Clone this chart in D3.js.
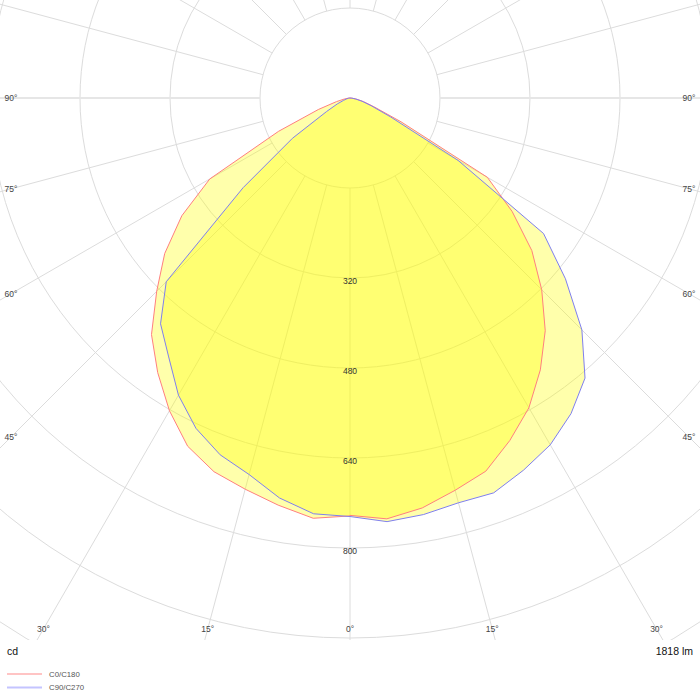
<!DOCTYPE html>
<html>
<head>
<meta charset="utf-8">
<script src="https://cdn.jsdelivr.net/npm/d3@7"></script>
<style>
  body { margin: 0; background: #fff; }
  text { font-family: "Liberation Sans", Arial, sans-serif; }
</style>
</head>
<body>
<div id="chart"></div>
<script>
// gamma angles (deg from nadir) and intensities in cd for each C-plane
const angles = [0, 5, 10, 15, 20, 25, 30, 35, 40, 45, 50, 55, 60, 65, 70, 75, 80, 85, 90];
const c0 = [742, 751, 740, 722, 706, 672, 636, 590, 540, 482, 422, 352, 282, 100, 45, 25, 12, 4, 0];
const c180 = [743, 750, 735, 720, 707, 683, 642, 596, 549, 486, 430, 365, 288, 140, 60, 25, 10, 3, 0];
const c90 = [744, 756, 752, 745, 747, 730, 712, 685, 650, 583, 500, 420, 222, 80, 40, 22, 10, 3, 0];
const c270 = [744, 742, 722, 693, 675, 648, 610, 562, 524, 462, 248, 125, 48, 25, 12, 6, 3, 1, 0];

const gridCircles = [160, 320, 480, 640, 800, 960, 1120, 1280, 1440];
const tickLabels = [320, 480, 640, 800];
const angleTicks = [0, 15, 30, 45, 60, 75, 90];
const legendNames = ["C0/C180", "C90/C270"];
const fluxLabel = "1818 lm";

const width = 700,
  height = 700,
  cx = 350,
  cy = 98;

const r = d3.scaleLinear().domain([0, 160]).range([0, 90]);
const deg = Math.PI / 180;

const svg = d3
  .select("#chart")
  .append("svg")
  .attr("width", width)
  .attr("height", height);

svg
  .append("clipPath")
  .attr("id", "gridClip")
  .append("rect")
  .attr("x", 0)
  .attr("y", 0)
  .attr("width", width)
  .attr("height", 640);

const grid = svg
  .append("g")
  .attr("clip-path", "url(#gridClip)")
  .append("g")
  .attr("transform", `translate(${cx}, ${cy})`);

grid
  .selectAll(".ring")
  .data(gridCircles)
  .enter()
  .append("circle")
  .attr("class", "ring")
  .attr("r", d => r(d))
  .attr("fill", "none")
  .attr("stroke", "#dcdcdc")
  .attr("stroke-width", 1);

// spokes every 15 degrees, starting at the inner ring
const spokes = d3.range(0, 360, 15);
grid
  .selectAll(".spoke")
  .data(spokes)
  .enter()
  .append("line")
  .attr("class", "spoke")
  .attr("x1", d => r(160) * Math.sin(d * deg))
  .attr("y1", d => r(160) * Math.cos(d * deg))
  .attr("x2", d => 1100 * Math.sin(d * deg))
  .attr("y2", d => 1100 * Math.cos(d * deg))
  .attr("stroke", d => (d % 180 === 90 ? "#e6e6e6" : "#dcdcdc"))
  .attr("stroke-width", d => (d % 180 === 90 ? 2 : 1));

// curves
const plot = svg.append("g").attr("transform", `translate(${cx}, ${cy})`);

const radial = d3
  .lineRadial()
  .angle(d => d.a)
  .radius(d => r(d.v))
  .curve(d3.curveLinearClosed);

function plane(right, left) {
  const pts = [];
  for (let i = angles.length - 1; i >= 0; i--) {
    pts.push({ a: Math.PI + angles[i] * deg, v: left[i] });
  }
  for (let i = 0; i < angles.length; i++) {
    pts.push({ a: Math.PI - angles[i] * deg, v: right[i] });
  }
  return pts;
}

const planes = [
  { pts: plane(c0, c180), color: "#ff7f7f" },
  { pts: plane(c90, c270), color: "#7f7fef" }
];

plot
  .selectAll(".fill")
  .data(planes)
  .enter()
  .append("path")
  .attr("class", "fill")
  .attr("d", d => radial(d.pts))
  .attr("fill", "#ffff00")
  .attr("fill-opacity", 0.33)
  .attr("stroke", "none");

plot
  .selectAll(".curve")
  .data(planes)
  .enter()
  .append("path")
  .attr("class", "curve")
  .attr("d", d => radial(d.pts))
  .attr("fill", "none")
  .attr("stroke", d => d.color)
  .attr("stroke-width", 1);

// intensity labels down the nadir line
plot
  .selectAll(".tick")
  .data(tickLabels)
  .enter()
  .append("text")
  .attr("class", "tick")
  .attr("x", 0)
  .attr("y", d => r(d) + 2.5)
  .attr("text-anchor", "middle")
  .attr("dominant-baseline", "central")
  .attr("font-size", "8.5px")
  .attr("fill", "#333")
  .text(d => d);

// angle labels where the spokes meet the frame
const halfW = 339,
  bottom = 531;
const angleLabels = [];
angleTicks.forEach(a => {
  [1, -1].forEach(side => {
    if (a === 0 && side === -1) return;
    const s = Math.sin(a * deg),
      c = Math.cos(a * deg);
    let t = c > 0 ? bottom / c : Infinity;
    if (s > 0) t = Math.min(t, halfW / s);
    angleLabels.push({ a, x: side * s * t, y: c * t });
  });
});

plot
  .selectAll(".angle")
  .data(angleLabels)
  .enter()
  .append("text")
  .attr("class", "angle")
  .attr("x", d => d.x)
  .attr("y", d => d.y)
  .attr("text-anchor", "middle")
  .attr("dominant-baseline", "central")
  .attr("font-size", "8.5px")
  .attr("fill", "#444")
  .text(d => d.a + "°");

// footer
svg
  .append("text")
  .attr("x", 7)
  .attr("y", 651)
  .attr("dominant-baseline", "central")
  .attr("font-size", "10.5px")
  .attr("fill", "#111")
  .text("cd");

svg
  .append("text")
  .attr("x", 693)
  .attr("y", 651)
  .attr("text-anchor", "end")
  .attr("dominant-baseline", "central")
  .attr("font-size", "10.5px")
  .attr("fill", "#111")
  .text(fluxLabel);

const legend = svg
  .selectAll(".legend")
  .data(legendNames)
  .enter()
  .append("g")
  .attr("class", "legend")
  .attr("transform", (d, i) => `translate(7, ${674 + i * 13.5})`);

legend
  .append("line")
  .attr("x1", 0)
  .attr("x2", 35)
  .attr("stroke", (d, i) => (i === 0 ? "#ffc4c4" : "#c4c4ff"))
  .attr("stroke-width", 2);

legend
  .append("text")
  .attr("x", 42)
  .attr("dominant-baseline", "central")
  .attr("font-size", "7.8px")
  .attr("fill", "#555")
  .text(d => d);
</script>
</body>
</html>
